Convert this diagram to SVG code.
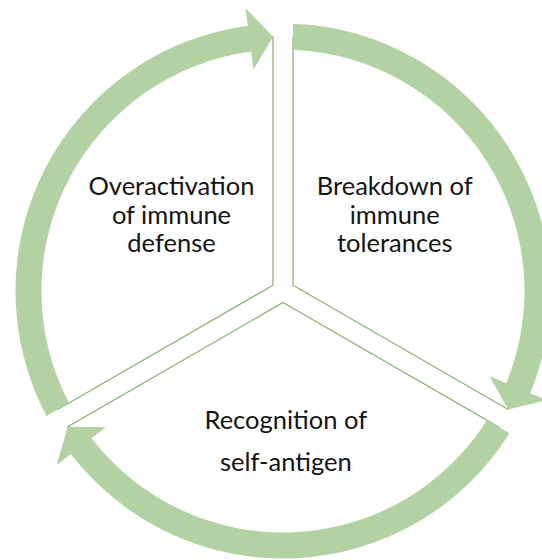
<svg xmlns="http://www.w3.org/2000/svg" width="542" height="560" viewBox="0 0 542 560">
<style>
.sector{fill:#ffffff;stroke:#86AE72;stroke-width:1.2}
.arrow{fill:#B3D2A4;stroke:none}
.lbl{font-family:Lato,"Open Sans","Liberation Sans",sans-serif;font-size:25.5px;fill:#141414;text-anchor:middle}
</style>
<rect x="0" y="0" width="542" height="560" fill="#ffffff"/>
<g id="node-overactivation">
<path class="sector" d="M273,285.23 L273,36.70 A254.5,254.5 0 0 0 57.76,409.49 Z"/>
<text class="lbl" x="171.5" y="195">Overactivation</text>
<text class="lbl" x="171.5" y="223.5">of immune</text>
<text class="lbl" x="171.5" y="252">defense</text>
</g>
<g id="node-breakdown">
<path class="sector" d="M293,285.23 L293,36.70 A254.5,254.5 0 0 1 508.24,409.49 Z"/>
<text class="lbl" x="394.7" y="195">Breakdown of</text>
<text class="lbl" x="394.7" y="223.5">immune</text>
<text class="lbl" x="394.7" y="252">tolerances</text>
</g>
<g id="node-recognition">
<path class="sector" d="M283,302.55 L498.23,426.82 A254.5,254.5 0 0 1 67.73,426.78 Z"/>
<text class="lbl" x="285.8" y="429">Recognition of</text>
<text class="lbl" x="285.8" y="471">self-antigen</text>
</g>
<g id="connectors">
<path class="arrow" d="M69.03,402.99 L46.50,416.01 A267.5,267.5 0 0 1 247.84,25.82 L245.48,7.97 L273.0,36.70 L253.63,69.44 L251.26,51.59 A241.5,241.5 0 0 0 69.03,402.99 Z"/>
<path class="arrow" d="M293.0,49.71 L293.0,23.69 A267.5,267.5 0 0 1 530.23,393.14 L546.87,400.01 L508.24,409.49 L489.57,376.34 L506.20,383.21 A241.5,241.5 0 0 0 293.0,49.71 Z"/>
<path class="arrow" d="M486.96,420.31 L509.50,433.32 A267.5,267.5 0 0 1 70.89,453.99 L56.62,464.96 L67.73,426.78 L105.78,427.18 L91.51,438.15 A241.5,241.5 0 0 0 486.96,420.31 Z"/>
</g>
</svg>
